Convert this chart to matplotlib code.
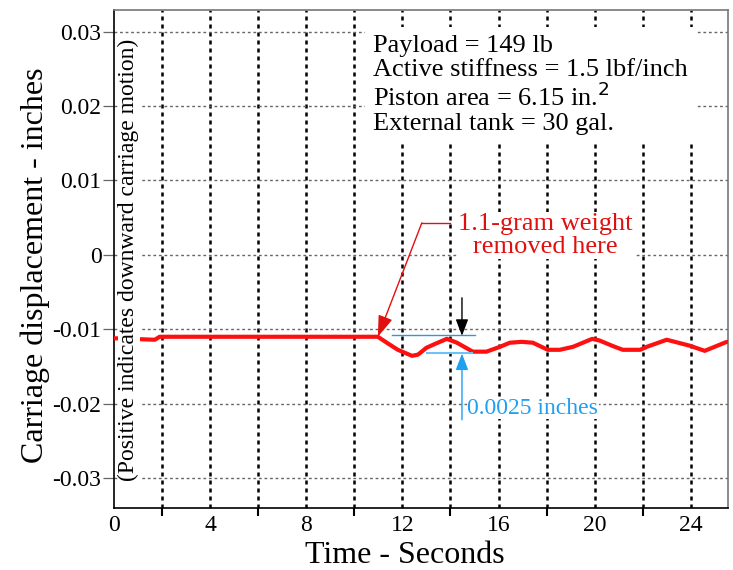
import matplotlib
matplotlib.use("Agg")
import matplotlib.pyplot as plt
from matplotlib.ticker import MultipleLocator

plt.rcParams['font.family'] = ['Liberation Serif', 'DejaVu Serif']

# ---- data ----
time_s = [0.0, 1.7, 1.9, 2.5, 6.0, 10.0, 10.98, 11.4, 11.81, 12.4, 12.65, 13.0, 13.4,
          13.85, 14.27, 14.93, 15.5, 16.06, 16.47, 16.97, 17.43, 18.05, 18.55, 19.1,
          19.9, 20.2, 20.76, 21.17, 21.9, 22.17, 23.0, 23.96, 24.58, 25.5]
disp_in = [-0.0112, -0.0114, -0.0110, -0.0110, -0.0110, -0.0110, -0.0110, -0.0119,
           -0.01275, -0.01356, -0.0134, -0.01248, -0.0119, -0.01128, -0.0118, -0.0130,
           -0.0130, -0.01235, -0.0118, -0.01168, -0.0118, -0.01275, -0.01275, -0.01235,
           -0.01128, -0.0115, -0.01225, -0.01275, -0.01275, -0.01235, -0.0114, -0.0122,
           -0.01289, -0.01168]

x_major = [0, 4, 8, 12, 16, 20, 24]
y_ticks = [-0.03, -0.02, -0.01, 0, 0.01, 0.02, 0.03]
y_labels = ['-0.03', '-0.02', '-0.01', '0', '0.01', '0.02', '0.03']

info_text = ("Payload = 149 lb\nActive stiffness = 1.5 lbf/inch\n"
             "Piston area = 6.15 in.$^{2}$\nExternal tank = 30 gal.")
note_text = "1.1-gram weight\nremoved here"
amp_text = "0.0025 inches"
side_text = "(Positive indicates downward carriage motion)"

# annotation anchor values (data units)
removal_t, removal_y = 10.98, -0.0110
amp_t = 14.48
amp_top, amp_bottom = -0.01074, -0.01315

fig = plt.figure(figsize=(7.33, 5.70), dpi=100)
ax = fig.add_axes([0.1555, 0.1088, 0.8377, 0.8737])
ax.set_xlim(0, 25.55)
ax.set_ylim(-0.034, 0.0329)

# grid
ax.set_xticks(x_major)
ax.xaxis.set_minor_locator(MultipleLocator(2))
ax.set_yticks(y_ticks)
ax.set_yticklabels(y_labels)
for t in range(2, 25, 2):
    ax.axvline(t, color='black', lw=1.8, ls=(0, (1.6, 1.6)), zorder=1)
for v in y_ticks:
    ax.axhline(v, color='#666666', lw=1.0, ls=(0, (2, 2)), zorder=1)

ax.tick_params(axis='x', which='major', length=0, labelsize=17, pad=5)
ax.tick_params(axis='x', which='minor', length=6, width=1.5, direction='out', color='black')
ax.tick_params(axis='y', which='major', length=8, width=0.9, color='#666666', labelsize=17, pad=1)

for s in ['left', 'bottom']:
    ax.spines[s].set_color('black'); ax.spines[s].set_linewidth(1.2)
for s in ['top', 'right']:
    ax.spines[s].set_color('#777777'); ax.spines[s].set_linewidth(1.2)

# curve
ax.plot(time_s, disp_in, color='#ff1010', lw=3.0, zorder=3, solid_capstyle='round')

# labels
ax.set_xlabel("Time - Seconds", fontsize=23, labelpad=0)
ax.xaxis.set_label_coords(0.474, -0.066)
ax.set_ylabel("Carriage displacement - inches", fontsize=23)
ax.yaxis.set_label_coords(-0.105, 0.488)

ax.text(0.62, -0.0007, side_text, rotation=90, fontsize=17, ha='center', va='center',
        zorder=5, bbox=dict(facecolor='white', edgecolor='none', pad=0.5))

ax.text(0.4218, 0.95, info_text, transform=ax.transAxes, fontsize=19, ha='left', va='top',
        linespacing=1.1, zorder=5,
        bbox=dict(facecolor='white', edgecolor='none', boxstyle='square,pad=0.3'))

# red annotation
ax.text(17.95, 0.0026, note_text, color='#e01010', fontsize=19, ha='center', va='center',
        linespacing=1.05, zorder=5,
        bbox=dict(facecolor='white', edgecolor='none', pad=1))
ax.plot([13.98, 12.81], [0.0043, 0.0043], color='#e01010', lw=1.0, zorder=4)
ax.annotate("", xy=(removal_t, removal_y), xytext=(12.81, 0.0043),
            arrowprops=dict(arrowstyle='-|>,head_length=1.3,head_width=0.45',
                            color='#e01010', lw=1.0, shrinkA=0, shrinkB=0), zorder=6)

# amplitude markers
ax.plot([11.56, 15.02], [amp_top, amp_top], color='#2f96e0', lw=1.0, zorder=4)
ax.plot([13.02, 14.9], [amp_bottom, amp_bottom], color='#6cc4f6', lw=1.5, zorder=4)
ax.annotate("", xy=(amp_t, amp_top - 0.00013), xytext=(amp_t, -0.00577),
            arrowprops=dict(arrowstyle='-|>,head_length=1.0,head_width=0.38',
                            color='black', lw=1.0, shrinkA=0, shrinkB=0), zorder=6)
ax.annotate("", xy=(amp_t, amp_bottom - 0.0001), xytext=(amp_t, -0.02215),
            arrowprops=dict(arrowstyle='-|>,head_length=1.0,head_width=0.38',
                            color='#1e9ff2', lw=1.0, shrinkA=0, shrinkB=0), zorder=6)
ax.text(14.7, -0.0206, amp_text, color='#1e9ff2', fontsize=17, ha='left', va='center',
        zorder=5, bbox=dict(facecolor='white', edgecolor='none', pad=0.5))

fig.savefig("out.png", dpi=100)
